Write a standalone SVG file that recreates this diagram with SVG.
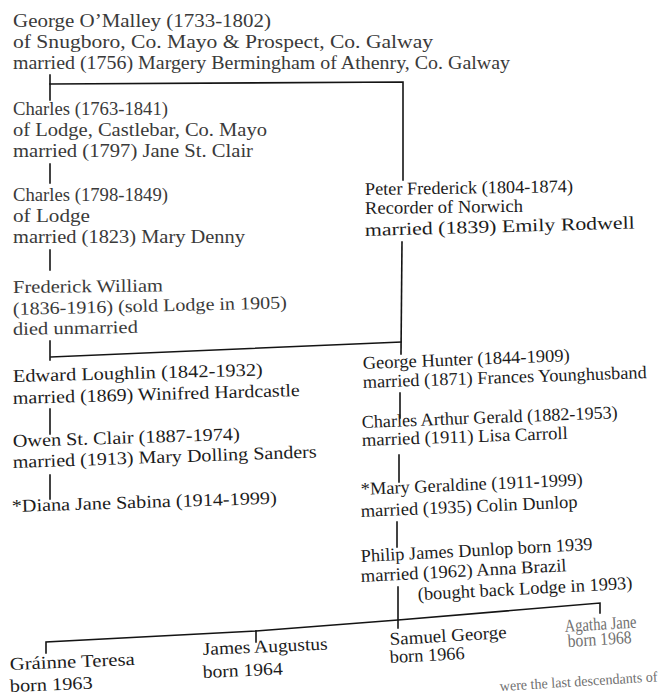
<svg xmlns="http://www.w3.org/2000/svg" width="665" height="698" viewBox="0 0 665 698">
<style>
text{font-family:"Liberation Serif","Times New Roman",serif;font-size:18px;fill:#1c1c1c}
.old{fill:#3a3a3a}
.faint{fill:#707070}
.small{font-size:14.5px}
.ln{stroke:#141414;stroke-width:1.6;fill:none;stroke-linecap:square}
</style>
<rect width="665" height="698" fill="#ffffff"/>
<g id="connectors">
<polyline class="ln" points="50,75 50,100"/>
<polyline class="ln" points="50,84 403,82 403,180"/>
<polyline class="ln" points="50,164 50,183"/>
<polyline class="ln" points="50,250 50,270"/>
<polyline class="ln" points="50,341 50,360"/>
<polyline class="ln" points="51,357 401,342"/>
<polyline class="ln" points="402,242 401,354"/>
<polyline class="ln" points="50,409 50,434"/>
<polyline class="ln" points="50,475 50,499"/>
<polyline class="ln" points="400,393 400,418"/>
<polyline class="ln" points="399,455 399,482"/>
<polyline class="ln" points="397,522 397,547"/>
<polyline class="ln" points="398,587 398,628"/>
<polyline class="ln" points="46,653 46,642 256,631 398,620 600,603 600,613"/>
<polyline class="ln" points="256,631 256,642"/>
</g>
<g id="george-omalley">
<text class="old" x="13" y="27" textLength="258" lengthAdjust="spacingAndGlyphs">George O’Malley (1733-1802)</text>
<text class="old" x="13" y="48" textLength="420" lengthAdjust="spacingAndGlyphs">of Snugboro, Co. Mayo &amp; Prospect, Co. Galway</text>
<text class="old" x="13" y="69" textLength="497" lengthAdjust="spacingAndGlyphs">married (1756) Margery Bermingham of Athenry, Co. Galway</text>
</g>
<g id="charles-1763">
<text class="old" x="13" y="115" textLength="155" lengthAdjust="spacingAndGlyphs">Charles (1763-1841)</text>
<text class="old" x="13" y="136" textLength="254" lengthAdjust="spacingAndGlyphs">of Lodge, Castlebar, Co. Mayo</text>
<text class="old" x="13" y="157" textLength="240" lengthAdjust="spacingAndGlyphs">married (1797) Jane St. Clair</text>
</g>
<g id="charles-1798">
<text class="old" x="13" y="201" textLength="155" lengthAdjust="spacingAndGlyphs">Charles (1798-1849)</text>
<text class="old" x="13" y="222" textLength="77" lengthAdjust="spacingAndGlyphs">of Lodge</text>
<text class="old" x="13" y="243" textLength="232" lengthAdjust="spacingAndGlyphs">married (1823) Mary Denny</text>
</g>
<g id="frederick-william">
<text class="old" x="13" y="293" textLength="150" lengthAdjust="spacingAndGlyphs" transform="rotate(-0.6 13 293)">Frederick William</text>
<text class="old" x="13" y="315" textLength="274" lengthAdjust="spacingAndGlyphs" transform="rotate(-1.4 13 315)">(1836-1916) (sold Lodge in 1905)</text>
<text class="old" x="13" y="335" textLength="125" lengthAdjust="spacingAndGlyphs" transform="rotate(-1 13 335)">died unmarried</text>
</g>
<g id="edward-loughlin">
<text x="13" y="382" textLength="250" lengthAdjust="spacingAndGlyphs" transform="rotate(-1.5 13 382)">Edward Loughlin (1842-1932)</text>
<text x="13" y="404" textLength="287" lengthAdjust="spacingAndGlyphs" transform="rotate(-1.6 13 404)">married (1869) Winifred Hardcastle</text>
</g>
<g id="owen-st-clair">
<text x="13" y="447" textLength="227" lengthAdjust="spacingAndGlyphs" transform="rotate(-1.8 13 447)">Owen St. Clair (1887-1974)</text>
<text x="13" y="468" textLength="304" lengthAdjust="spacingAndGlyphs" transform="rotate(-2 13 468)">married (1913) Mary Dolling Sanders</text>
</g>
<g id="diana-jane-sabina">
<text x="12" y="512" textLength="265" lengthAdjust="spacingAndGlyphs" transform="rotate(-1.8 12 512)">*Diana Jane Sabina (1914-1999)</text>
</g>
<g id="peter-frederick">
<text x="365" y="195" textLength="208" lengthAdjust="spacingAndGlyphs" transform="rotate(-0.8 365 195)">Peter Frederick (1804-1874)</text>
<text x="365" y="214" textLength="158" lengthAdjust="spacingAndGlyphs" transform="rotate(-0.8 365 214)">Recorder of Norwich</text>
<text x="365" y="236" textLength="270" lengthAdjust="spacingAndGlyphs" transform="rotate(-1.6 365 236)">married (1839) Emily Rodwell</text>
</g>
<g id="george-hunter">
<text x="363" y="369" textLength="207" lengthAdjust="spacingAndGlyphs" transform="rotate(-2.2 363 369)">George Hunter (1844-1909)</text>
<text x="363" y="388" textLength="284" lengthAdjust="spacingAndGlyphs" transform="rotate(-2 363 388)">married (1871) Frances Younghusband</text>
</g>
<g id="charles-arthur-gerald">
<text x="362" y="428" textLength="256" lengthAdjust="spacingAndGlyphs" transform="rotate(-2.2 362 428)">Charles Arthur Gerald (1882-1953)</text>
<text x="362" y="446" textLength="206" lengthAdjust="spacingAndGlyphs" transform="rotate(-2 362 446)">married (1911) Lisa Carroll</text>
</g>
<g id="mary-geraldine">
<text x="361" y="495" textLength="222" lengthAdjust="spacingAndGlyphs" transform="rotate(-2.5 361 495)">*Mary Geraldine (1911-1999)</text>
<text x="361" y="517" textLength="217" lengthAdjust="spacingAndGlyphs" transform="rotate(-2.5 361 517)">married (1935) Colin Dunlop</text>
</g>
<g id="philip-james-dunlop">
<text x="361" y="562" textLength="232" lengthAdjust="spacingAndGlyphs" transform="rotate(-3 361 562)">Philip James Dunlop born 1939</text>
<text x="361" y="582" textLength="206" lengthAdjust="spacingAndGlyphs" transform="rotate(-3 361 582)">married (1962) Anna Brazil</text>
<text x="418" y="600" textLength="215" lengthAdjust="spacingAndGlyphs" transform="rotate(-3 418 600)">(bought back Lodge in 1993)</text>
</g>
<g id="grainne-teresa">
<text x="10" y="670" textLength="125" lengthAdjust="spacingAndGlyphs" transform="rotate(-2.3 10 670)">Gráinne Teresa</text>
<text x="10" y="692" textLength="83" lengthAdjust="spacingAndGlyphs" transform="rotate(-2.3 10 692)">born 1963</text>
</g>
<g id="james-augustus">
<text x="203" y="655" textLength="125" lengthAdjust="spacingAndGlyphs" transform="rotate(-2.5 203 655)">James Augustus</text>
<text x="203" y="678" textLength="80" lengthAdjust="spacingAndGlyphs" transform="rotate(-2.5 203 678)">born 1964</text>
</g>
<g id="samuel-george">
<text x="390" y="645" textLength="117" lengthAdjust="spacingAndGlyphs" transform="rotate(-3.4 390 645)">Samuel George</text>
<text x="390" y="663" textLength="75" lengthAdjust="spacingAndGlyphs" transform="rotate(-3 390 663)">born 1966</text>
</g>
<g id="agatha-jane">
<text class="faint" x="565" y="632" textLength="72" lengthAdjust="spacingAndGlyphs" transform="rotate(-3.5 565 632)">Agatha Jane</text>
<text class="faint" x="568" y="647" textLength="64" lengthAdjust="spacingAndGlyphs" transform="rotate(-3.5 568 647)">born 1968</text>
</g>
<text class="faint small" x="500" y="691" textLength="158" lengthAdjust="spacingAndGlyphs" transform="rotate(-3.5 500 691)">were the last descendants of</text>
</svg>
